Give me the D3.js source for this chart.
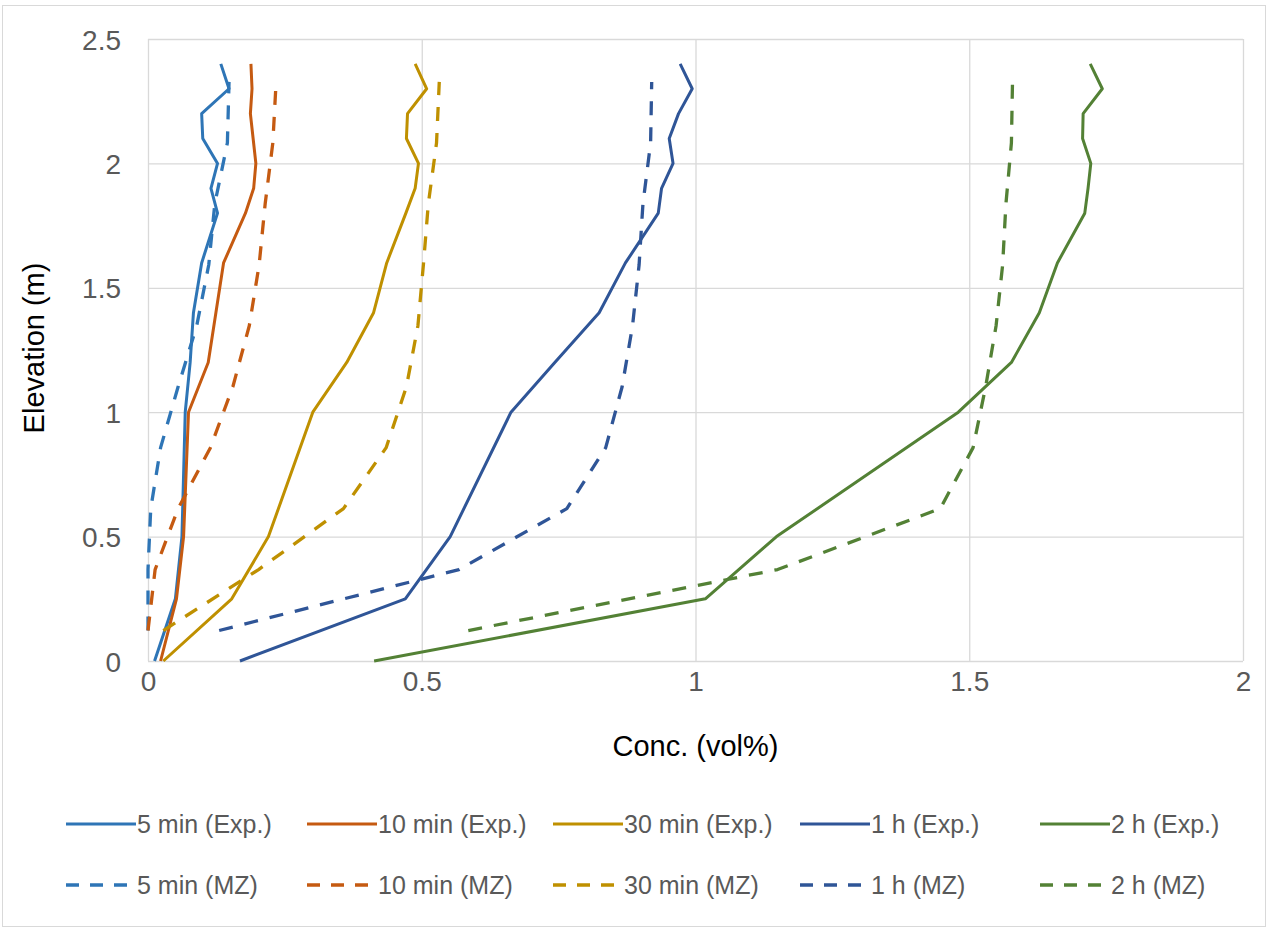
<!DOCTYPE html>
<html>
<head>
<meta charset="utf-8">
<script src="https://cdn.jsdelivr.net/npm/d3@7"></script>
<style>
  html, body { margin: 0; padding: 0; background: #fff; }
  svg { display: block; font-family: "Liberation Sans", Arial, Helvetica, sans-serif; }
</style>
</head>
<body>
<svg id="chart" width="1267" height="929"></svg>
<script>
// Measurement elevations (m) for the experimental profiles
const expElevation = [0, 0.25, 0.5, 1.0, 1.2, 1.4, 1.6, 1.8, 1.9, 2.0, 2.1, 2.2, 2.3, 2.4];
// Zone-centre elevations (m) for the multi-zone model profiles
const mzElevation = [0.1225, 0.3675, 0.6125, 0.8575, 1.1025, 1.3475, 1.5925, 1.8375, 2.0825, 2.3275];

// Experimental concentrations (vol%)
const exp5min  = [0.012, 0.050, 0.062, 0.068, 0.077, 0.083, 0.098, 0.127, 0.115, 0.127, 0.100, 0.098, 0.148, 0.133];
const exp10min = [0.023, 0.052, 0.065, 0.074, 0.110, 0.124, 0.138, 0.178, 0.193, 0.197, 0.192, 0.187, 0.190, 0.188];
const exp30min = [0.028, 0.153, 0.220, 0.301, 0.363, 0.412, 0.436, 0.471, 0.488, 0.494, 0.472, 0.474, 0.509, 0.488];
const exp1h    = [0.168, 0.470, 0.552, 0.663, 0.743, 0.824, 0.872, 0.932, 0.938, 0.959, 0.952, 0.969, 0.994, 0.972];
const exp2h    = [0.413, 1.018, 1.148, 1.480, 1.577, 1.628, 1.661, 1.711, 1.717, 1.722, 1.707, 1.708, 1.743, 1.721];

// Multi-zone model concentrations (vol%)
const mz5min  = [0.000, 0.000, 0.005, 0.023, 0.055, 0.089, 0.111, 0.122, 0.145, 0.148];
const mz10min = [0.000, 0.013, 0.055, 0.114, 0.155, 0.185, 0.203, 0.214, 0.228, 0.234];
const mz30min = [0.028, 0.202, 0.357, 0.435, 0.472, 0.493, 0.503, 0.512, 0.527, 0.532];
const mz1h    = [0.130, 0.568, 0.765, 0.836, 0.866, 0.885, 0.897, 0.904, 0.918, 0.920];
const mz2h    = [0.585, 1.150, 1.447, 1.507, 1.530, 1.549, 1.561, 1.567, 1.577, 1.579];

// Tick values
const xTicks = [0, 0.5, 1, 1.5, 2];
const yTicks = [0, 0.5, 1, 1.5, 2, 2.5];

// Series: label, colour, dashed?, elevations, values
const seriesNames   = ["5 min (Exp.)", "10 min (Exp.)", "30 min (Exp.)", "1 h (Exp.)", "2 h (Exp.)",
                       "5 min (MZ)", "10 min (MZ)", "30 min (MZ)", "1 h (MZ)", "2 h (MZ)"];
const seriesColors  = ["#2E75B6", "#C55A11", "#BF9000", "#2F5597", "#538135"];
const seriesValues  = [exp5min, exp10min, exp30min, exp1h, exp2h, mz5min, mz10min, mz30min, mz1h, mz2h];

const series = seriesNames.map((name, i) => ({
  name,
  color: seriesColors[i % 5],
  dashed: i >= 5,
  points: seriesValues[i].map((v, k) => ({ x: v, y: (i >= 5 ? mzElevation : expElevation)[k] }))
}));

const svg = d3.select("#chart");
const W = 1267, H = 929;
const plot = { left: 148, right: 1243, top: 39, bottom: 661 };

// outer frame
svg.append("rect")
  .attr("x", 2.5).attr("y", 5.5).attr("width", W - 4).attr("height", H - 8)
  .attr("fill", "#fff").attr("stroke", "#d9d9d9").attr("stroke-width", 1);

const x = d3.scaleLinear().domain([0, 2]).range([plot.left, plot.right]);
const y = d3.scaleLinear().domain([0, 2.5]).range([plot.bottom, plot.top]);

// gridlines
const gridX = svg.append("g").attr("transform", `translate(0,${plot.bottom})`)
  .call(d3.axisBottom(x).tickValues(xTicks).tickSize(-(plot.bottom - plot.top)).tickFormat(""));
const gridY = svg.append("g").attr("transform", `translate(${plot.left},0)`)
  .call(d3.axisLeft(y).tickValues(yTicks).tickSize(-(plot.right - plot.left)).tickFormat(""));
[gridX, gridY].forEach(g => {
  g.select(".domain").remove();
  g.selectAll(".tick line").attr("stroke", "#d9d9d9").attr("stroke-width", 1.3);
});

// tick labels
const axX = svg.append("g").attr("transform", `translate(0,${plot.bottom})`)
  .call(d3.axisBottom(x).tickValues(xTicks).tickSize(0).tickPadding(30).tickFormat(d3.format("")));
const axY = svg.append("g").attr("transform", `translate(${plot.left},0)`)
  .call(d3.axisLeft(y).tickValues(yTicks).tickSize(0).tickPadding(27).tickFormat(d3.format("")));
[axX, axY].forEach(g => {
  g.select(".domain").remove();
  g.selectAll(".tick text").attr("fill", "#595959").style("font-size", "28px")
    .style("font-family", "'Liberation Sans', Arial, Helvetica, sans-serif");
});
axX.selectAll(".tick text").attr("dy", "0");
axY.selectAll(".tick text").attr("dy", "0.36em");

// axis titles
svg.append("text").attr("x", (plot.left + plot.right) / 2).attr("y", 756)
  .attr("text-anchor", "middle").attr("fill", "#000").style("font-size", "29px")
  .text("Conc. (vol%)");
svg.append("text").attr("transform", `translate(44,${(plot.top + plot.bottom) / 2 - 2}) rotate(-90)`)
  .attr("text-anchor", "middle").attr("fill", "#000").style("font-size", "29px")
  .text("Elevation (m)");

// profiles
const line = d3.line().x(d => x(d.x)).y(d => y(d.y));
svg.append("g").selectAll("path").data(series).join("path")
  .attr("d", d => line(d.points))
  .attr("fill", "none")
  .attr("stroke", d => d.color)
  .attr("stroke-width", d => d.dashed ? 3.3 : 3)
  .attr("stroke-linejoin", "round")
  .attr("stroke-dasharray", d => d.dashed ? "14,12" : null);

// legend
const legendCols = [66, 307, 553, 800, 1040];
const legendRows = [824, 885];
const lg = svg.append("g").selectAll("g").data(series).join("g")
  .attr("transform", (d, i) => `translate(${legendCols[i % 5]},${legendRows[Math.floor(i / 5)]})`);
lg.append("line").attr("x1", 0).attr("x2", 70).attr("y1", 0).attr("y2", 0)
  .attr("stroke", d => d.color).attr("stroke-width", d => d.dashed ? 3.3 : 3)
  .attr("stroke-dasharray", d => d.dashed ? "13,11" : null);
lg.append("text").attr("x", 71).attr("y", 9)
  .attr("fill", "#595959").style("font-size", "25px")
  .text(d => d.name);
</script>
</body>
</html>
